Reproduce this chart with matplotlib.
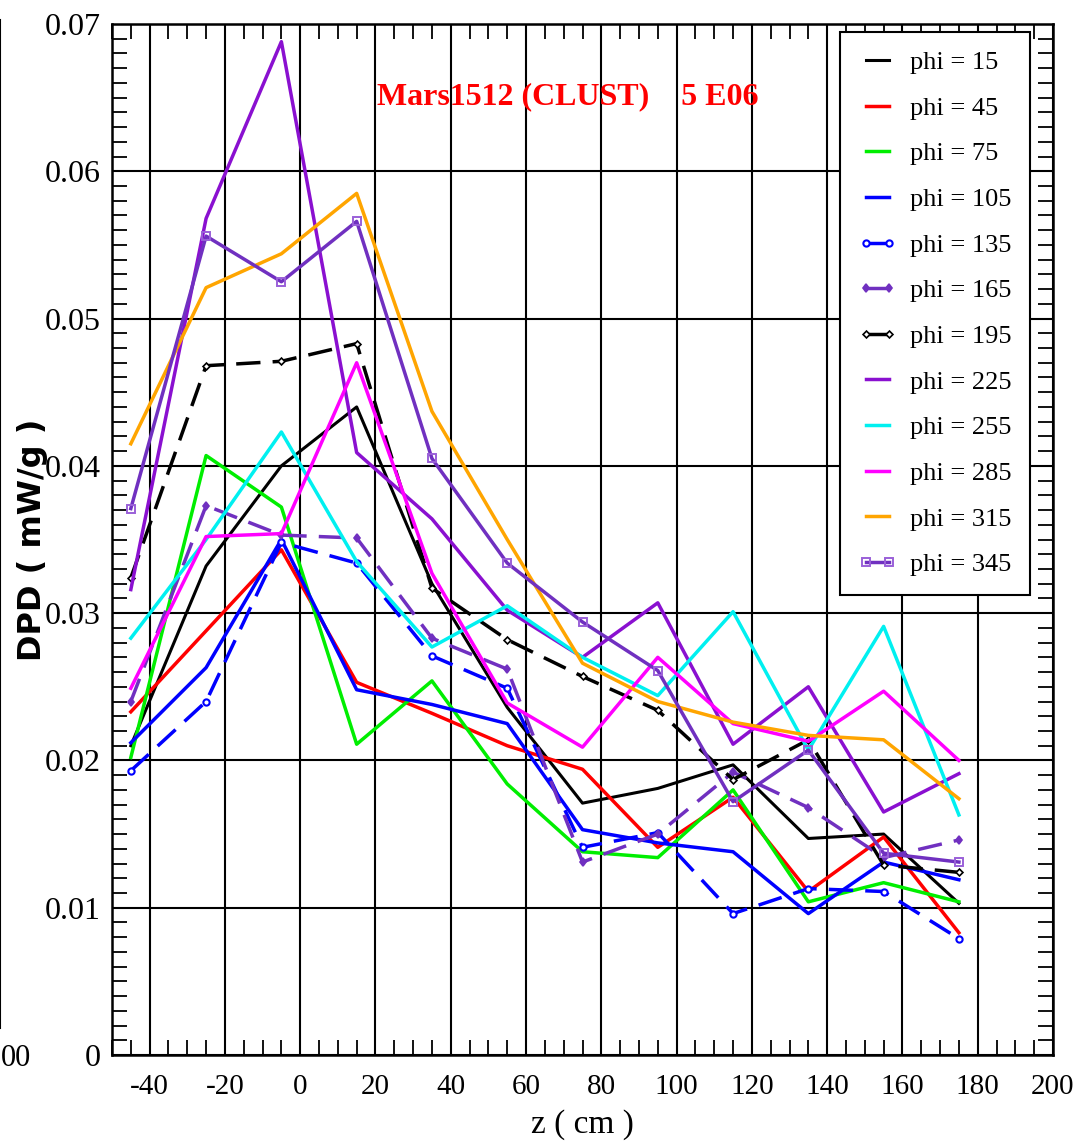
import matplotlib
matplotlib.use("Agg")
import matplotlib.pyplot as plt
from matplotlib.ticker import MultipleLocator, FixedLocator

# Axial positions of the samples (cm)
z = [-45, -25, -5, 15, 35, 55, 75, 95, 115, 135, 155, 175]

# DPD (mW/g) per azimuthal angle
phi15 = [0.0210, 0.0332, 0.0400, 0.0440, 0.0320, 0.0236, 0.0171, 0.0181, 0.0197, 0.0147, 0.0150, 0.0103]
phi45 = [0.0233, 0.0288, 0.0343, 0.0253, 0.0232, 0.0210, 0.0194, 0.0141, 0.0175, 0.0111, 0.0148, 0.0083]
phi75 = [0.0202, 0.0407, 0.0372, 0.0211, 0.0254, 0.0184, 0.0138, 0.0134, 0.0180, 0.0104, 0.0117, 0.0104]
phi105 = [0.0212, 0.0263, 0.0350, 0.0248, 0.0238, 0.0225, 0.0153, 0.0144, 0.0138, 0.0096, 0.0131, 0.0119]
phi135 = [0.0193, 0.0240, 0.0348, 0.0334, 0.0271, 0.0249, 0.0141, 0.0151, 0.0096, 0.0113, 0.0111, 0.0079]
phi165 = [0.0240, 0.0373, 0.0353, 0.0351, 0.0283, 0.0262, 0.0131, 0.0150, 0.0192, 0.0168, 0.0134, 0.0146]
phi195 = [0.0324, 0.0468, 0.0471, 0.0483, 0.0317, 0.0282, 0.0257, 0.0234, 0.0187, 0.0214, 0.0129, 0.0124]
phi225 = [0.0316, 0.0568, 0.0688, 0.0409, 0.0364, 0.0302, 0.0270, 0.0307, 0.0211, 0.0250, 0.0165, 0.0191]
phi255 = [0.0283, 0.0350, 0.0423, 0.0335, 0.0277, 0.0305, 0.0270, 0.0244, 0.0301, 0.0207, 0.0291, 0.0163]
phi285 = [0.0249, 0.0352, 0.0354, 0.0470, 0.0327, 0.0239, 0.0209, 0.0270, 0.0225, 0.0213, 0.0247, 0.0200]
phi315 = [0.0415, 0.0521, 0.0544, 0.0585, 0.0437, 0.0350, 0.0266, 0.0240, 0.0226, 0.0217, 0.0214, 0.0174]
phi345 = [0.0371, 0.0556, 0.0525, 0.0566, 0.0405, 0.0334, 0.0294, 0.0261, 0.0172, 0.0207, 0.0137, 0.0131]

labels = ["phi = 15", "phi = 45", "phi = 75", "phi = 105", "phi = 135", "phi = 165",
          "phi = 195", "phi = 225", "phi = 255", "phi = 285", "phi = 315", "phi = 345"]
series = [phi15, phi45, phi75, phi105, phi135, phi165,
          phi195, phi225, phi255, phi285, phi315, phi345]

x_major = [-40, -20, 0, 20, 40, 60, 80, 100, 120, 140, 160, 180, 200]
x_ticklabels = ["-40", "-20", "0", "20", "40", "60", "80", "100", "120", "140", "160", "180", "200"]
y_major = [0, 0.01, 0.02, 0.03, 0.04, 0.05, 0.06, 0.07]
y_ticklabels = ["0", "0.01", "0.02", "0.03", "0.04", "0.05", "0.06", "0.07"]

dash = (0, (7, 3.5))
styles = [
    dict(color="black", ls="-", lw=2.2),
    dict(color="#ff0000", ls="-"),
    dict(color="#00ee00", ls="-"),
    dict(color="#0000ff", ls="-"),
    dict(color="#0000ff", ls=dash, marker="o", ms=4.5, mfc="white", mew=1.5),
    dict(color="#7030c0", ls=dash, marker="d", ms=4.5, mfc="#7030c0", mew=1.2),
    dict(color="black", ls=dash, marker="D", ms=3.5, mfc="white", mew=1.2),
    dict(color="#8a10d0", ls="-"),
    dict(color="#00f0f0", ls="-"),
    dict(color="#ff00ff", ls="-"),
    dict(color="#ffa500", ls="-"),
    dict(color="#7030c0", ls="-", marker="s", ms=6, mfc="none", mec="#9a60d8", mew=1.4),
]

serif = "Liberation Serif"
W, H = 1076, 1147
fig = plt.figure(figsize=(W / 100, H / 100), dpi=100)

# Edge of the neighbouring panel at the far left
side = fig.add_axes([(3 - 300) / W, (H - 1028) / H, 297 / W, (1028 - 20) / H])
for s in ("left", "top", "bottom"):
    side.spines[s].set_visible(False)
side.spines["right"].set_linewidth(1.5)
side.set_xticks([])
side.set_ylim(0, 56)
side.yaxis.set_major_locator(MultipleLocator(1))
side.yaxis.tick_right()
side.tick_params(axis="y", direction="in", length=4, width=1.2, labelright=False)
side.patch.set_alpha(0)
fig.text(1 / W, 1 - 1058 / H, "00", ha="left", va="center", fontsize=22, family=serif)

R = 1053
ax = fig.add_axes([112 / W, (H - 1055) / H, (R - 112) / W, (1055 - 24) / H])
ax.set_xlim(-50, 200)
ax.set_ylim(0, 0.07)

for y, lab, st in zip(series, labels, styles):
    kw = dict(lw=2.5)
    kw.update(st)
    ax.plot(z, y, label=lab, **kw)

ax.xaxis.set_major_locator(FixedLocator(x_major))
ax.set_xticklabels(x_ticklabels)
ax.yaxis.set_major_locator(FixedLocator(y_major))
ax.set_yticklabels(y_ticklabels)
ax.xaxis.set_minor_locator(MultipleLocator(5))
ax.yaxis.set_minor_locator(MultipleLocator(0.001))
ax.tick_params(which="both", direction="in", top=True, right=True)
ax.tick_params(which="major", length=0)
ax.tick_params(which="minor", length=11, width=1.3)
ax.tick_params(axis="x", which="major", pad=14, labelsize=21)
ax.tick_params(axis="y", which="major", pad=8, labelsize=23)
for t in ax.get_xticklabels() + ax.get_yticklabels():
    t.set_family(serif)

ax.grid(True, which="major", color="black", lw=1.5)
ax.set_axisbelow(True)
for s in ax.spines.values():
    s.set_linewidth(1.8)

ax.set_xlabel("z ( cm )", fontsize=24, family=serif, labelpad=6)
ax.set_ylabel("DPD ( mW/g )", fontsize=23, fontweight="bold", family="DejaVu Sans")
ax.yaxis.set_label_coords(-0.068, 0.5)

ax.text(0.282, 0.929, "Mars1512 (CLUST)    5 E06", transform=ax.transAxes,
        ha="left", va="center", color="red", fontsize=23, fontweight="bold", family=serif)

leg = ax.legend(loc="upper right", bbox_to_anchor=(0.9755, 0.992), borderaxespad=0,
                fancybox=False, framealpha=1, edgecolor="black", numpoints=2,
                prop=dict(family=serif, size=19), labelspacing=0.84,
                handlelength=1.45, handletextpad=0.5, borderpad=0.7)
leg.get_frame().set_linewidth(1.5)

fig.savefig("out.png", dpi=100)
